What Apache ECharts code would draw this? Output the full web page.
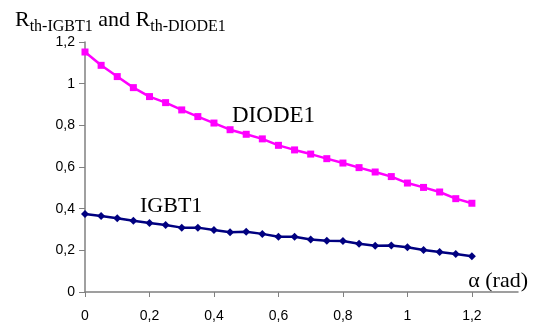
<!DOCTYPE html>
<html>
<head>
<meta charset="utf-8">
<script src="https://cdn.jsdelivr.net/npm/echarts@6/dist/echarts.min.js"></script>
<style>
  html, body { margin: 0; background: #fff; }
  #chart { width: 539px; height: 327px; }
</style>
</head>
<body>
<div id="chart"></div>
<script>
// alpha (rad) sample points
const alpha = [0, 0.05, 0.1, 0.15, 0.2, 0.25, 0.3, 0.35, 0.4, 0.45, 0.5, 0.55, 0.6,
  0.65, 0.7, 0.75, 0.8, 0.85, 0.9, 0.95, 1, 1.05, 1.1, 1.15, 1.2];
const diode1 = [1.152, 1.088, 1.034, 0.981, 0.938, 0.909, 0.874, 0.842, 0.811, 0.779, 0.757, 0.735, 0.704,
  0.682, 0.662, 0.640, 0.619, 0.597, 0.576, 0.554, 0.523, 0.502, 0.480, 0.448, 0.426];
const igbt1 = [0.374, 0.365, 0.354, 0.342, 0.331, 0.322, 0.309, 0.309, 0.298, 0.287, 0.289, 0.279, 0.265,
  0.265, 0.252, 0.246, 0.245, 0.232, 0.222, 0.223, 0.215, 0.202, 0.192, 0.182, 0.172];
const xTicks = [0, 0.2, 0.4, 0.6, 0.8, 1, 1.2];

const comma = v => String(+(+v).toFixed(2)).replace('.', ',');
const axisGray = '#808080';
const serif = '"Liberation Serif", "Times New Roman", serif';
const sans = '"Liberation Sans", Arial, sans-serif';

var myChart = echarts.init(document.getElementById('chart'));
myChart.setOption({
  animation: false,
  title: {
    left: 15,
    top: 9,
    padding: 0,
    text: '{r|R}{s|th-IGBT1}{r| and R}{s|th-DIODE1}',
    textStyle: {
      fontWeight: 'normal',
      rich: {
        r: { fontFamily: serif, fontSize: 22, fontWeight: 'normal', color: '#000', lineHeight: 24, verticalAlign: 'top' },
        s: { fontFamily: serif, fontSize: 16, fontWeight: 'normal', color: '#000', lineHeight: 18, verticalAlign: 'top', padding: [10, 0, 0, 0] }
      }
    }
  },
  grid: { left: 85, right: 21, top: 42, bottom: 35, containLabel: false },
  xAxis: {
    type: 'value',
    min: 0,
    max: 1.343,
    interval: 0.2,
    splitLine: { show: false },
    axisLine: { lineStyle: { color: axisGray, width: 1.5 } },
    axisTick: { length: 5, customValues: xTicks, lineStyle: { color: axisGray } },
    axisLabel: {
      customValues: xTicks,
      margin: 17,
      fontFamily: sans,
      fontSize: 14,
      color: '#000',
      formatter: comma
    }
  },
  yAxis: {
    type: 'value',
    min: 0,
    max: 1.2,
    interval: 0.2,
    splitLine: { show: false },
    axisLine: { show: true, lineStyle: { color: axisGray, width: 1.5 } },
    axisTick: { show: true, length: 6, lineStyle: { color: axisGray } },
    axisLabel: {
      margin: 10,
      fontFamily: sans,
      fontSize: 14,
      color: '#000',
      formatter: comma
    }
  },
  graphic: [
    { type: 'text', x: 232, y: 116, style: { text: 'DIODE1', font: '23px ' + serif, fill: '#000', verticalAlign: 'middle' } },
    { type: 'text', x: 140, y: 206, style: { text: 'IGBT1', font: '22px ' + serif, fill: '#000', verticalAlign: 'middle' } },
    { type: 'text', x: 528, y: 281, style: { text: 'α (rad)', font: '22px ' + serif, fill: '#000', align: 'right', verticalAlign: 'middle' } }
  ],
  series: [
    {
      name: 'DIODE1',
      type: 'line',
      data: alpha.map((a, i) => [a, diode1[i]]),
      symbol: 'rect',
      symbolSize: 7,
      lineStyle: { color: '#FF00FF', width: 2.5 },
      itemStyle: { color: '#FF00FF' }
    },
    {
      name: 'IGBT1',
      type: 'line',
      data: alpha.map((a, i) => [a, igbt1[i]]),
      symbol: 'diamond',
      symbolSize: 8,
      lineStyle: { color: '#000080', width: 2.5 },
      itemStyle: { color: '#000080' }
    }
  ]
});
</script>
</body>
</html>
